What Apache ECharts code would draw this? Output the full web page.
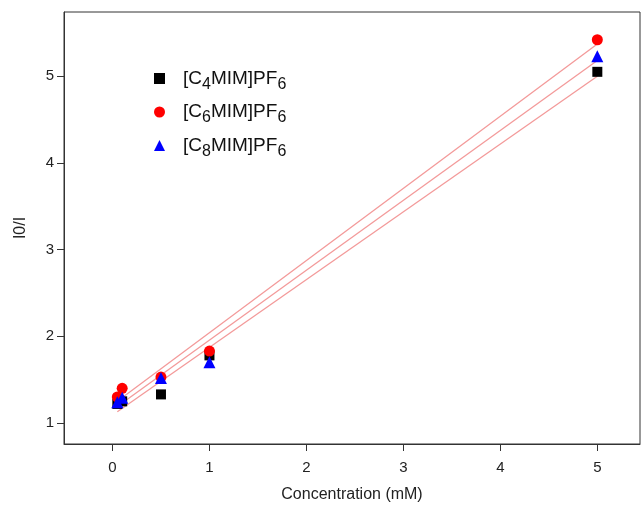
<!DOCTYPE html>
<html><head><meta charset="utf-8">
<script src="https://cdn.jsdelivr.net/npm/echarts@6/dist/echarts.min.js"></script>
<style>html,body{margin:0;padding:0;background:#fff}#c{width:644px;height:505px}</style>
</head><body><div id="c"></div>
<script>
// Data
const concC4 = [0.05, 0.1, 0.5, 1, 5];
const valC4  = [1.22, 1.25, 1.33, 1.78, 5.05];
const concC6 = [0.05, 0.1, 0.5, 1, 5];
const valC6  = [1.30, 1.40, 1.53, 1.83, 5.42];
const concC8 = [0.05, 0.1, 0.5, 1, 5];
const valC8  = [1.24, 1.29, 1.52, 1.70, 5.23];
// fitted line end points
const fitX   = [0.05, 5];
const fitC4  = [1.13, 5.00];
const fitC6  = [1.25, 5.37];
const fitC8  = [1.19, 5.18];
const xTicks = [0, 1, 2, 3, 4, 5];
const yTicks = [1, 2, 3, 4, 5];
const names  = ['[C4MIM]PF6', '[C6MIM]PF6', '[C8MIM]PF6'];
const legendRich = ['[C{s|4}MIM]PF{s|6}', '[C{s|6}MIM]PF{s|6}', '[C{s|8}MIM]PF{s|6}'];

const zip = (xs, ys) => xs.map((x, i) => [x, ys[i]]);
const chart = echarts.init(document.getElementById('c'), null, {renderer: 'canvas'});
const font = 'Liberation Sans, Arial, Helvetica, sans-serif';
const fitStyle = {color: '#f39a9a', width: 1.3, opacity: 1};
function fit(ys) {
  return {type: 'line', data: zip(fitX, ys), symbol: 'none', lineStyle: fitStyle, silent: true, z: 1, legendHoverLink: false};
}
chart.setOption({
  animation: false,
  backgroundColor: '#fff',
  grid: {left: 64, top: 12, right: 4, bottom: 61, show: true, borderColor: '#333', borderWidth: 1,
         containLabel: false, outerBoundsMode: 'none'},
  legend: {
    data: [
      {name: names[0], icon: 'rect'},
      {name: names[1], icon: 'circle'},
      {name: names[2], icon: 'triangle'}
    ],
    orient: 'vertical', left: 149, top: 64, itemGap: 10, itemWidth: 11, itemHeight: 11,
    formatter: n => legendRich[names.indexOf(n)],
    textStyle: {fontFamily: font, fontSize: 19, color: '#111', padding: [0, 0, 0, 13],
      rich: {s: {fontFamily: font, fontSize: 16, color: '#111', verticalAlign: 'bottom', padding: [12, 0, 0, 0]}}}
  },
  xAxis: {
    type: 'value', min: -0.5, max: 5.44,
    name: 'Concentration (mM)', nameLocation: 'middle', nameGap: 43,
    nameTextStyle: {fontFamily: font, fontSize: 16, color: '#222'},
    axisLine: {show: true, onZero: false, lineStyle: {color: '#333', width: 1}},
    axisTick: {show: true, inside: false, length: 7, customValues: xTicks, lineStyle: {color: '#333'}},
    axisLabel: {customValues: xTicks, fontFamily: font, fontSize: 15, color: '#222', margin: 16},
    splitLine: {show: false}
  },
  yAxis: {
    type: 'value', min: 0.758, max: 5.74,
    name: 'I0/I', nameLocation: 'middle', nameGap: 35, nameRotate: 90,
    nameTextStyle: {fontFamily: font, fontSize: 16, color: '#222'},
    axisLine: {show: true, onZero: false, lineStyle: {color: '#333', width: 1}},
    axisTick: {show: true, inside: false, length: 7, customValues: yTicks, lineStyle: {color: '#333'}},
    axisLabel: {customValues: yTicks, fontFamily: font, fontSize: 15, color: '#222', margin: 10},
    splitLine: {show: false}
  },
  series: [
    fit(fitC4), fit(fitC6), fit(fitC8),
    {name: names[0], type: 'scatter', data: zip(concC4, valC4), symbol: 'rect', symbolSize: 10, itemStyle: {color: '#000', opacity: 1}, z: 3},
    {name: names[1], type: 'scatter', data: zip(concC6, valC6), symbol: 'circle', symbolSize: 11, itemStyle: {color: '#ff0000', opacity: 1}, z: 4},
    {name: names[2], type: 'scatter', data: zip(concC8, valC8), symbol: 'triangle', symbolSize: 12, itemStyle: {color: '#0000ff', opacity: 1}, z: 5}
  ]
});
</script></body></html>
